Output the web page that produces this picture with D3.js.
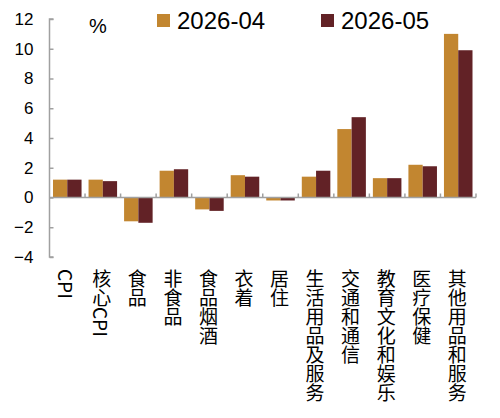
<!DOCTYPE html>
<html>
<head>
<meta charset="utf-8">
<script src="https://cdn.jsdelivr.net/npm/d3@7"></script>
<style>
  body { margin: 0; background: #fff; }
  svg { display: block; }
  text { font-family: "Liberation Sans", Arial, "Noto Sans CJK SC", sans-serif; fill: #000; }
  .cat { font-family: "Noto Sans CJK SC", sans-serif; writing-mode: vertical-rl; }
</style>
</head>
<body>
<div id="chart"></div>
<script>
'use strict';
var categories = ['CPI', '核心CPI', '食品', '非食品', '食品烟酒', '衣着', '居住',
  '生活用品及服务', '交通和通信', '教育文化和娱乐', '医疗保健', '其他用品和服务'];
var seriesNames = ['2026-04', '2026-05'];
var apr = [1.2, 1.2, -1.6, 1.8, -0.8, 1.5, -0.2, 1.4, 4.6, 1.3, 2.2, 11.0];
var may = [1.2, 1.1, -1.7, 1.9, -0.9, 1.4, -0.2, 1.8, 5.4, 1.3, 2.1, 9.9];
var yTicks = [-4, -2, 0, 2, 4, 6, 8, 10, 12];
var colors = ['#C28630', '#622226'];

var width = 500, height = 418;
var svg = d3.select('#chart').append('svg')
  .attr('width', width)
  .attr('height', height);

// scales
var x = d3.scaleBand().domain(categories).range([49.5, 476]);
var x1 = d3.scaleBand().domain(seriesNames).range([3.5, x.bandwidth() - 3.5]);
var y = d3.scaleLinear().domain([-4, 12]).range([257, 19]);

var data = categories.map(function(c, i) {
  return {cat: c, values: [apr[i], may[i]]};
});

// bars
var groups = svg.selectAll('.grp')
  .data(data)
  .enter()
  .append('g')
  .attr('class', 'grp')
  .attr('transform', function(d) { return 'translate(' + x(d.cat) + ',0)'; });

groups.selectAll('rect')
  .data(function(d) {
    return d.values.map(function(v, j) { return {name: seriesNames[j], v: v, j: j}; });
  })
  .enter()
  .append('rect')
  .attr('x', function(d) { return x1(d.name); })
  .attr('width', x1.bandwidth())
  .attr('y', function(d) { return y(Math.max(0, d.v)); })
  .attr('height', function(d) { return Math.abs(y(d.v) - y(0)); })
  .style('fill', function(d) { return colors[d.j]; });

// y axis (ticks pointing inward)
var yAxis = svg.append('g')
  .attr('transform', 'translate(49.5,0)')
  .call(d3.axisRight(y).tickValues(yTicks).tickSize(4).tickFormat(function(d) {
    return d < 0 ? '\u2212' + Math.abs(d) : d;
  }));
yAxis.select('.domain').attr('d', 'M4,' + y(12) + 'H0V' + y(-4) + 'H4');
yAxis.selectAll('line, .domain').style('stroke', '#a0a0a0').style('stroke-width', 1.5);
yAxis.selectAll('text')
  .attr('x', -16)
  .attr('text-anchor', 'end')
  .style('font-size', '17px');

// x axis on the zero line, ticks pointing up
var xAxis = svg.append('g')
  .attr('transform', 'translate(0,' + y(0) + ')');
xAxis.append('line')
  .attr('x1', 49.5).attr('x2', 476)
  .style('stroke', '#a0a0a0').style('stroke-width', 1.5);
xAxis.selectAll('.tk')
  .data(categories)
  .enter()
  .append('line')
  .attr('class', 'tk')
  .attr('x1', function(d) { return x(d) + x.bandwidth(); })
  .attr('x2', function(d) { return x(d) + x.bandwidth(); })
  .attr('y1', 0).attr('y2', -4)
  .style('stroke', '#a0a0a0').style('stroke-width', 1.5);

// category labels (vertical)
svg.selectAll('.cat')
  .data(categories)
  .enter()
  .append('text')
  .attr('class', 'cat')
  .attr('x', function(d) { return x(d) + x.bandwidth() / 2 - 1; })
  .attr('y', 269)
  .style('font-size', '19px')
  .text(function(d) { return d; });

// unit
svg.append('text')
  .attr('x', 89).attr('y', 33)
  .style('font-size', '20px')
  .text('%');

// legend
var legendX = [157, 321];
var legend = svg.selectAll('.legend')
  .data(seriesNames)
  .enter()
  .append('g')
  .attr('class', 'legend')
  .attr('transform', function(d, i) { return 'translate(' + legendX[i] + ',14)'; });
legend.append('rect')
  .attr('width', 13).attr('height', 13)
  .style('fill', function(d, i) { return colors[i]; });
legend.append('text')
  .attr('x', 20).attr('y', 14.5)
  .style('font-size', '24px')
  .text(function(d) { return d; });
</script>
</body>
</html>
